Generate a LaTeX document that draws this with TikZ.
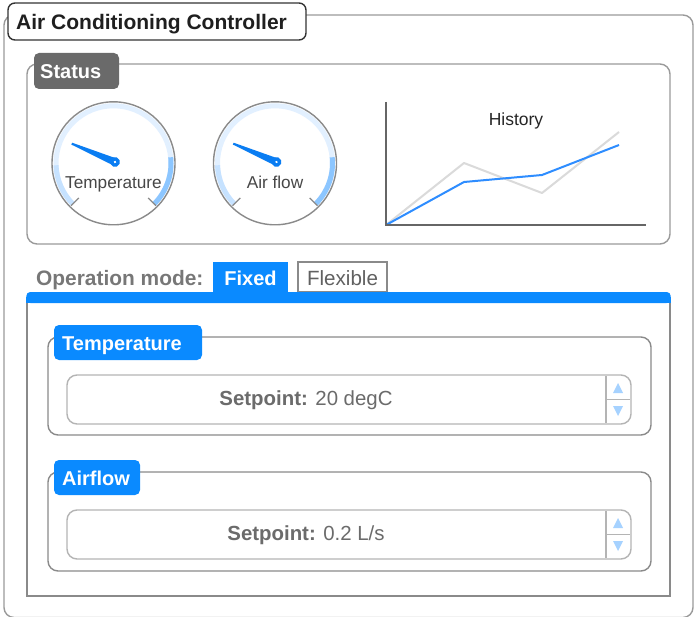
\documentclass[tikz,border=0pt]{standalone}
\usepackage{fontspec}
\setmainfont{Liberation Sans}
\definecolor{framegray}{HTML}{9A9A9A}
\definecolor{linegray}{HTML}{8A8A8A}
\definecolor{spingray}{HTML}{B4B4B4}
\definecolor{uiblue}{HTML}{0A8AFF}
\definecolor{needleblue}{HTML}{0A7DF2}
\definecolor{palering}{HTML}{E2F0FF}
\definecolor{lightring}{HTML}{C6E2FF}
\definecolor{midring}{HTML}{8CC6FF}
\definecolor{arrowblue}{HTML}{A6D2FF}
\definecolor{statusgray}{HTML}{6A6A6A}
\definecolor{labelgray}{HTML}{777777}
\definecolor{valuegray}{HTML}{6B6B6B}
\definecolor{histgray}{HTML}{DADADA}
\definecolor{histblue}{HTML}{2E8DFF}
\newcommand\uifont[1]{\fontsize{#1}{#1}\selectfont}
\tikzset{
  panelframe/.style={draw=framegray, line width=1.4pt, rounded corners=10pt},
  groupframe/.style={draw=linegray, line width=1.4pt, rounded corners=10pt, fill=white},
  tagbox/.style={fill=uiblue, rounded corners=5pt},
  headtext/.style={inner sep=0pt, anchor=base west, font=\uifont{20}\bfseries, text=white},
  spinframe/.style={draw=spingray, line width=1.4pt, rounded corners=10pt, fill=white},
  gaugeline/.style={draw=linegray, line width=1.4pt},
  tickline/.style={draw=linegray, line width=1.2pt},
  gaugelabel/.style={inner sep=0pt, anchor=base, font=\uifont{17.2}, text=black!72},
  needlefill/.style={fill=needleblue},
}
% circular gauge: centre x, centre y (downwards), caption, node name
\newcommand\drawgauge[4]{%
  \begin{scope}[shift={(#1,-#2)}]
    \fill[white] (0,0) circle[radius=61.5pt];
    \draw[line width=5pt, palering] (225:57.5pt) arc[start angle=225, end angle=-45, radius=57.5pt];
    \draw[line width=5pt, lightring] (225:57.5pt) arc[start angle=225, end angle=182, radius=57.5pt];
    \draw[line width=5pt, midring] (6:57.5pt) arc[start angle=6, end angle=-45, radius=57.5pt];
    \draw[gaugeline] (0,0) circle[radius=61.5pt];
    \draw[tickline] (225:49pt) -- (225:60pt);
    \draw[tickline] (-45:49pt) -- (-45:60pt);
    \node[gaugelabel] (#4) at (0,-25) {#3};
    \begin{scope}[shift={(1.5,1.3)}, rotate=157]
      \fill[needlefill] (0,3.8) -- (47,1) -- (47,-1) -- (0,-3.8) -- cycle;
      \fill[needlefill] (0,0) circle[radius=4.9pt];
      \fill[white] (0,0) circle[radius=1.3pt];
    \end{scope}
  \end{scope}}
% spin box: top y, caption, node name
\newcommand\drawspin[3]{%
  \draw[spinframe] (67,-#1) rectangle (631,-#1-49);
  \draw[spingray, line width=1.2pt] (606,-#1-1) -- (606,-#1-48);
  \draw[spingray, line width=1.2pt] (606,-#1-24.5) -- (630,-#1-24.5);
  \fill[arrowblue] (613,-#1-18) -- (623,-#1-18) -- (618,-#1-8) -- cycle;
  \fill[arrowblue] (613,-#1-31) -- (623,-#1-31) -- (618,-#1-41) -- cycle;
  \node[inner sep=0pt, anchor=base, font=\uifont{20.4}, text=valuegray] (#3) at (306,-#1-30) {\textbf{Setpoint:} #2};}
\begin{document}
\begin{tikzpicture}[x=1pt,y=1pt]
  \useasboundingbox (0,0) rectangle (695,-617);
  % outer window frame and its title
  \draw[panelframe] (4,-15) rectangle (693,-617.5);
  \draw[draw=black!80, line width=1.4pt, rounded corners=7pt, fill=white] (8,-3) rectangle (306,-40);
  \node[inner sep=0pt, anchor=base west, font=\uifont{21}\bfseries, text=black!88] (title) at (16,-29.5) {Air Conditioning Controller};

  % status group
  \draw[groupframe, draw=framegray] (27,-64) rectangle (670,-244);
  \fill[statusgray, rounded corners=5pt] (34,-53) rectangle (119,-89);
  \node[headtext] (status) at (40,-78.3) {Status};
  \drawgauge{113.5}{163.3}{Temperature}{gtemp}
  \drawgauge{275}{163.3}{Air flow}{gair}

  % history chart
  \draw[histgray, line width=2pt, line join=round] (386,-225) -- (464,-163) -- (542,-193) -- (619,-132);
  \draw[histblue, line width=2pt, line join=round] (386,-225) -- (464,-182) -- (542,-175) -- (619,-145);
  \draw[black!60, line width=1.2pt] (386,-102) -- (386,-225) -- (646,-225);
  \node[inner sep=0pt, anchor=base, font=\uifont{17.5}, text=black!85] (history) at (516,-126) {History};

  % operation mode tabs
  \node[inner sep=0pt, anchor=base west, font=\uifont{20.9}\bfseries, text=labelgray] (opmode) at (36,-285) {Operation mode:};
  \fill[uiblue] (213,-262) rectangle (288,-294);
  \node[inner sep=0pt, anchor=base, font=\uifont{20}\bfseries, text=white] (fixed) at (250.5,-285) {Fixed};
  \draw[linegray, line width=1.4pt, fill=white] (298,-262) rectangle (387,-292);
  \node[inner sep=0pt, anchor=base, font=\uifont{20.6}, text=black!62] (flexible) at (342.5,-285) {Flexible};

  % tab page
  \draw[draw=linegray, line width=1.4pt] (27,-300) rectangle (670,-596);
  \fill[uiblue, rounded corners=4pt] (26.3,-292) rectangle (670.7,-303);
  \fill[uiblue] (26.3,-297) rectangle (670.7,-303);

  % temperature group
  \draw[groupframe] (48,-337) rectangle (651,-435);
  \fill[tagbox] (54,-325) rectangle (202,-360);
  \node[headtext] (temphead) at (62,-350) {Temperature};
  \drawspin{375}{20 degC}{tempset}

  % airflow group
  \draw[groupframe] (48,-472) rectangle (651,-571);
  \fill[tagbox] (54,-460) rectangle (140,-495);
  \node[headtext] (airhead) at (62,-485) {Airflow};
  \drawspin{510}{0.2 L/s}{airset}
\end{tikzpicture}
\end{document}
